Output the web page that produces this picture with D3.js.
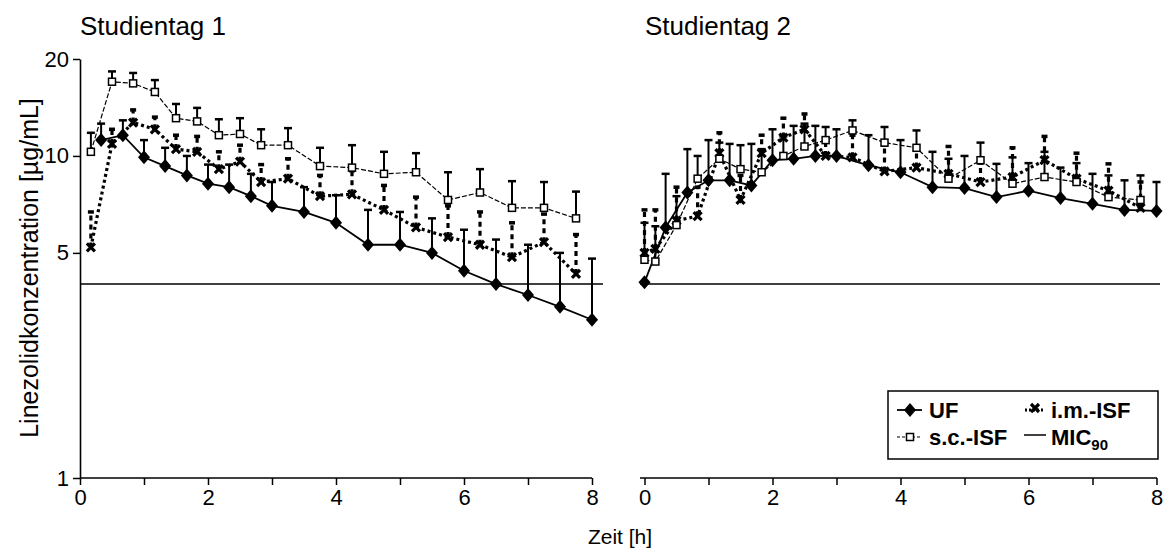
<!DOCTYPE html>
<html><head><meta charset="utf-8">
<script src="https://cdn.jsdelivr.net/npm/d3@7"></script>
<style>body{margin:0;background:#fff}svg{display:block;font-family:"Liberation Sans",Arial,sans-serif}</style>
</head><body><svg id="c" width="1164" height="549"></svg>
<script>
// ---- data ----
const panelTitles = ["Studientag 1", "Studientag 2"];
const xTicks = [0,1,2,3,4,5,6,7,8];
const yTicks = [1,5,10,20];
const mic = 4;
// Day 1
const d1_ufT   = [0.33,0.67,1.0,1.33,1.67,2.0,2.33,2.67,3.0,3.5,4.0,4.5,5.0,5.5,6.0,6.5,7.0,7.5,8.0];
const d1_uf    = [11.2,11.6,9.9,9.3,8.7,8.2,8.0,7.5,7.0,6.7,6.2,5.3,5.3,5.0,4.4,4.0,3.7,3.4,3.1];
const d1_ufHi  = [12.6,12.9,11.2,10.6,10.0,9.4,9.4,8.8,8.3,8.0,7.55,6.8,6.7,6.4,5.9,5.5,5.3,5.0,4.8];
const d1_isfT  = [0.17,0.5,0.83,1.17,1.5,1.83,2.17,2.5,2.83,3.25,3.75,4.25,4.75,5.25,5.75,6.25,6.75,7.25,7.75];
const d1_sc    = [10.3,17.0,16.8,15.8,13.1,12.8,11.6,11.7,10.8,10.8,9.3,9.2,8.8,8.9,7.3,7.7,6.9,6.9,6.4];
const d1_scHi  = [11.8,18.3,18.1,17.2,14.5,14.1,13.0,13.1,12.1,12.2,10.6,10.8,10.3,10.2,8.9,9.1,8.35,8.3,7.75];
const d1_im    = [5.2,10.9,12.7,12.1,10.5,10.3,9.1,9.6,8.3,8.5,7.5,7.6,6.8,6.0,5.6,5.3,4.85,5.4,4.3];
const d1_imHi  = [6.7,12.1,13.9,13.2,11.6,11.5,10.3,10.8,9.4,9.8,8.7,9.0,8.1,7.45,7.0,6.7,6.2,6.6,5.7];
// Day 2
const d2_ufT   = [0,0.33,0.67,1.0,1.33,1.67,2.0,2.33,2.67,3.0,3.5,4.0,4.5,5.0,5.5,6.0,6.5,7.0,7.5,8.0];
const d2_uf    = [4.05,6.0,7.7,8.4,8.4,8.1,9.7,9.8,10.0,10.0,9.35,8.9,8.0,7.95,7.45,7.8,7.4,7.1,6.8,6.75];
const d2_ufHi  = [4.05,8.8,10.5,11.2,10.9,10.9,12.1,12.4,12.4,12.1,11.6,11.2,10.3,10.0,9.45,9.5,9.2,8.8,8.4,8.3];
const d2_isfT  = [0,0.17,0.5,0.83,1.17,1.5,1.83,2.17,2.5,2.83,3.25,3.75,4.25,4.75,5.25,5.75,6.25,6.75,7.25,7.75];
const d2_sc    = [4.76,4.7,6.1,8.5,9.8,9.1,8.9,10.0,10.7,11.2,12.0,11.0,10.6,8.5,9.7,8.2,8.6,8.3,7.45,7.3];
const d2_scHi  = [6.2,6.05,7.5,10.0,11.0,10.8,10.5,11.5,12.6,12.3,12.9,12.3,12.0,9.8,11.0,9.9,10.3,9.5,8.7,8.7];
const d2_im    = [5.0,5.15,6.3,6.5,10.2,7.3,10.2,11.4,12.1,10.0,9.9,8.95,9.2,8.8,8.3,8.6,9.7,8.5,7.8,6.9];
const d2_imHi  = [6.8,6.8,8.0,8.0,11.8,8.7,11.6,13.1,13.5,11.2,11.6,10.8,10.5,10.7,9.5,10.6,11.5,10.2,9.45,8.3];

const svg = d3.select("#c");
const y = d3.scaleLog().domain([1,20]).range([478,59]);
const panels = [
  {title: panelTitles[0], x: d3.scaleLinear().domain([0,8]).range([80,592]), axStart:80, axEnd:592, micEnd:[80,603], titleX:80,
   ufT:d1_ufT, uf:d1_uf, ufHi:d1_ufHi, isfT:d1_isfT, sc:d1_sc, scHi:d1_scHi, im:d1_im, imHi:d1_imHi},
  {title: panelTitles[1], x: d3.scaleLinear().domain([0,8]).range([644.5,1156.5]), axStart:640, axEnd:1157, micEnd:[640,1160], titleX:645,
   ufT:d2_ufT, uf:d2_uf, ufHi:d2_ufHi, isfT:d2_isfT, sc:d2_sc, scHi:d2_scHi, im:d2_im, imHi:d2_imHi}
];

const diamond = "M0,-7L6,0L0,7L-6,0Z";
const cross = "M-4,-4L4,4M4,-4L-4,4";
const FF = "Liberation Sans, Arial, sans-serif";

panels.forEach((p,pi) => {
  const g = svg.append("g");
  const x = p.x;
  const xa = g.append("g").attr("transform","translate(0,478)")
    .call(d3.axisBottom(x).tickValues(xTicks).tickSizeOuter(0).tickSize(7).tickPadding(4)
      .tickFormat(d => d % 2 === 0 ? d : ""));
  xa.select(".domain").attr("d", `M${p.axStart},0H${p.axEnd}`).attr("stroke-width",1.6);
  xa.selectAll(".tick line").attr("stroke-width",1.5);
  xa.selectAll("text").attr("font-size",22).attr("fill","#000").attr("font-family",FF);
  if (pi === 0) {
    const ya = g.append("g").attr("transform","translate(80,0)")
      .call(d3.axisLeft(y).tickValues(yTicks).tickFormat(d3.format("d")).tickSize(7).tickSizeOuter(0).tickPadding(4));
    ya.select(".domain").attr("stroke-width",1.6);
    ya.selectAll(".tick line").attr("stroke-width",1.5);
    ya.selectAll("text").attr("font-size",22).attr("fill","#000").attr("font-family",FF);
  }
  g.append("line").attr("x1",p.micEnd[0]).attr("x2",p.micEnd[1]).attr("y1",y(mic)).attr("y2",y(mic))
    .attr("stroke","#000").attr("stroke-width",1.5);
  g.append("text").attr("x",p.titleX).attr("y",35).attr("font-size",26).text(p.title);

  const eb = (ts, vs, hs, opts) => {
    ts.forEach((t,i) => {
      if (hs[i] <= vs[i]) return;
      g.append("line").attr("x1",x(t)).attr("x2",x(t)).attr("y1",y(vs[i])).attr("y2",y(hs[i]))
        .attr("stroke","#000").attr("stroke-width",opts.w).attr("stroke-dasharray",opts.dash||null);
      g.append("line").attr("x1",x(t)-opts.cap).attr("x2",x(t)+opts.cap).attr("y1",y(hs[i])).attr("y2",y(hs[i]))
        .attr("stroke","#000").attr("stroke-width",opts.capW);
    });
  };
  eb(p.isfT, p.sc, p.scHi, {w:2, cap:4, capW:2.5});
  eb(p.isfT, p.im, p.imHi, {w:3.2, dash:"5,4", cap:3, capW:3.5});
  eb(p.ufT, p.uf, p.ufHi, {w:2, cap:4, capW:2.5});

  const line = (ts, vs) => d3.line().x((d,i)=>x(ts[i])).y(d=>y(d))(vs);
  g.append("path").attr("d",line(p.isfT,p.sc)).attr("fill","none").attr("stroke","#000").attr("stroke-width",1.2).attr("stroke-dasharray","5,2");
  g.append("path").attr("d",line(p.isfT,p.im)).attr("fill","none").attr("stroke","#000").attr("stroke-width",3.2).attr("stroke-dasharray","3,3");
  g.append("path").attr("d",line(p.ufT,p.uf)).attr("fill","none").attr("stroke","#000").attr("stroke-width",1.8);

  p.isfT.forEach((t,i)=>{
    g.append("path").attr("d",cross).attr("transform",`translate(${x(t)},${y(p.im[i])})`)
      .attr("stroke","#000").attr("stroke-width",3.2).attr("fill","none");
  });
  p.isfT.forEach((t,i)=>{
    g.append("rect").attr("x",x(t)-3.5).attr("y",y(p.sc[i])-3.5).attr("width",7).attr("height",7)
      .attr("fill","#fff").attr("stroke","#000").attr("stroke-width",1.5);
  });
  p.ufT.forEach((t,i)=>{
    g.append("path").attr("d",diamond).attr("transform",`translate(${x(t)},${y(p.uf[i])})`).attr("fill","#000");
  });
});

svg.append("text").attr("transform","translate(38,268) rotate(-90)").attr("text-anchor","middle")
  .attr("font-size",25).text("Linezolidkonzentration [µg/mL]");
svg.append("text").attr("x",620).attr("y",544).attr("text-anchor","middle").attr("font-size",21).text("Zeit [h]");

const lg = svg.append("g");
lg.append("rect").attr("x",888).attr("y",391).attr("width",270).attr("height",68)
  .attr("fill","#fff").attr("stroke","#000").attr("stroke-width",1.5);
const r1 = 410, r2 = 437;
lg.append("line").attr("x1",897).attr("x2",922).attr("y1",r1).attr("y2",r1).attr("stroke","#000").attr("stroke-width",1.8);
lg.append("path").attr("d",diamond).attr("transform",`translate(910,${r1})`).attr("fill","#000");
lg.append("text").attr("x",929).attr("y",r1+8).attr("font-size",22).attr("font-weight","bold").text("UF");
lg.append("line").attr("x1",897).attr("x2",922).attr("y1",r2).attr("y2",r2).attr("stroke","#000").attr("stroke-width",1.2).attr("stroke-dasharray","3,2");
lg.append("rect").attr("x",906.5).attr("y",r2-3.5).attr("width",7).attr("height",7).attr("fill","#fff").attr("stroke","#000").attr("stroke-width",1.5);
lg.append("text").attr("x",929).attr("y",r2+8).attr("font-size",22).attr("font-weight","bold").text("s.c.-ISF");
lg.append("line").attr("x1",1025).attr("x2",1045).attr("y1",r1).attr("y2",r1).attr("stroke","#000").attr("stroke-width",3).attr("stroke-dasharray","2,2");
lg.append("path").attr("d",cross).attr("transform",`translate(1035,${r1-2})`).attr("stroke","#000").attr("stroke-width",3.2);
lg.append("text").attr("x",1051).attr("y",r1+8).attr("font-size",22).attr("font-weight","bold").text("i.m.-ISF");
lg.append("line").attr("x1",1024).attr("x2",1046).attr("y1",r2-2).attr("y2",r2-2).attr("stroke","#000").attr("stroke-width",1.5);
const mt = lg.append("text").attr("x",1051).attr("y",r2+8).attr("font-size",22).attr("font-weight","bold");
mt.append("tspan").text("MIC");
mt.append("tspan").attr("font-size",15).attr("dy",5).text("90");
</script></body></html>
